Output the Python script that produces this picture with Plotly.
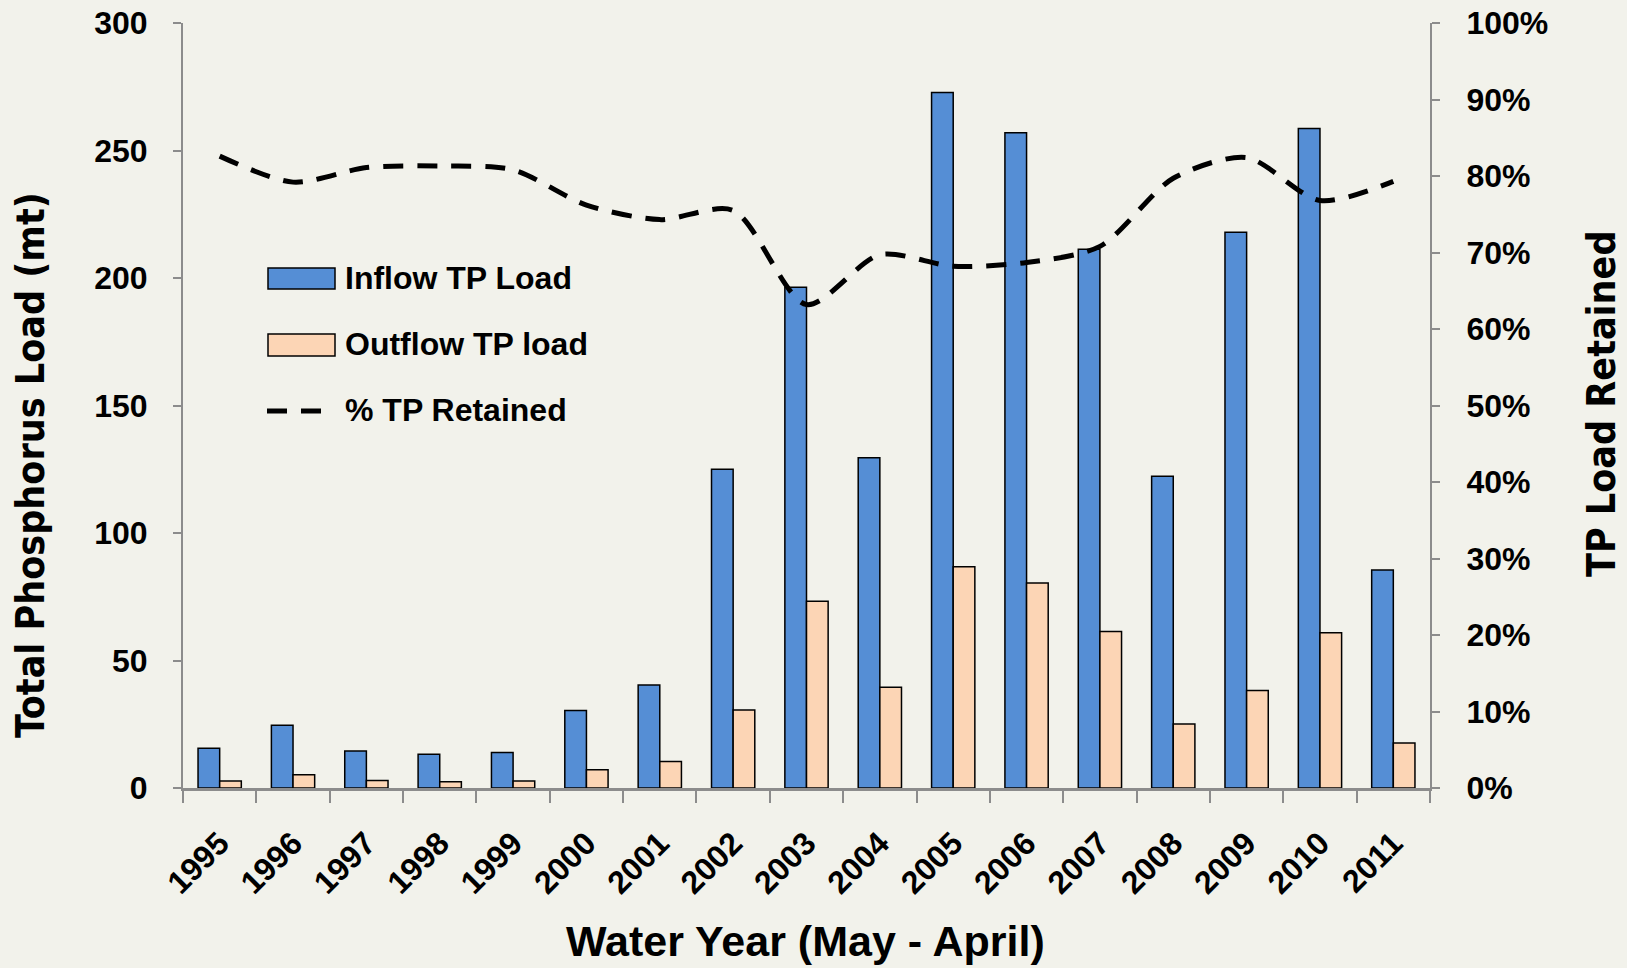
import plotly.graph_objects as go

years = [str(y) for y in range(1995, 2012)]
inflow = [15.6, 24.6, 14.5, 13.2, 13.9, 30.4, 40.4, 125.0, 196.4, 129.5, 272.7, 257.0, 211.3, 122.3, 217.9, 258.6, 85.5]
outflow = [2.7, 5.2, 2.9, 2.5, 2.7, 7.2, 10.4, 30.6, 73.2, 39.5, 86.8, 80.4, 61.4, 25.1, 38.2, 60.9, 17.6]
pct_retained = [0.826, 0.792, 0.811, 0.813, 0.808, 0.762, 0.743, 0.755, 0.632, 0.697, 0.682, 0.687, 0.708, 0.797, 0.824, 0.768, 0.793]

W, H = 1627, 968
ML, MR, MT, MB = 183, 197, 23, 180
PW, PH = W - ML - MR, H - MT - MB

def px(x):
    return (x - ML) / PW

def py(y):
    return (H - MB - y) / PH

BLUE = "#558ed5"
PEACH = "#fcd5b5"
BG = "#f2f2eb"
AXC = "#8c8c8c"
SANS = "Liberation Sans, Arial, sans-serif"
TICKFONT = dict(family=SANS, size=32, color="black", weight="bold")
TITLEFONT = dict(family="DejaVu Sans Condensed, DejaVu Sans, sans-serif", size=39, color="black", weight="bold")

fig = go.Figure()
fig.add_trace(go.Bar(x=years, y=inflow, name="Inflow TP Load", marker=dict(color=BLUE, line=dict(color="black", width=1.5))))
fig.add_trace(go.Bar(x=years, y=outflow, name="Outflow TP load", marker=dict(color=PEACH, line=dict(color="black", width=1.5))))
fig.add_trace(go.Scatter(x=years, y=pct_retained, name="% TP Retained", yaxis="y2", mode="lines",
                         line=dict(color="black", width=5, dash="20px,14px", shape="spline", smoothing=0.8)))

fig.update_layout(
    width=W, height=H,
    margin=dict(l=ML, r=MR, t=MT, b=MB, autoexpand=False),
    paper_bgcolor=BG, plot_bgcolor=BG,
    barmode="group", bargap=0.41, bargroupgap=0,
    showlegend=False,
    xaxis=dict(type="category", tickson="boundaries", ticks="outside", ticklen=12, tickwidth=2, tickcolor=AXC,
               showline=True, linecolor=AXC, linewidth=2.5, showgrid=False, tickangle=-45,
               tickfont=TICKFONT, ticklabelstandoff=21, automargin=False, ticklabeloverflow="allow"),
    yaxis=dict(range=[0, 300], dtick=50, ticks="outside", ticklen=8, tickwidth=2, tickcolor=AXC,
               showline=True, linecolor=AXC, linewidth=2, showgrid=False, zeroline=False,
               tickfont=TICKFONT, ticklabelstandoff=19, automargin=False, ticklabeloverflow="allow"),
    yaxis2=dict(range=[0, 1], dtick=0.1, tickformat=".0%", overlaying="y", side="right",
                ticks="outside", ticklen=8, tickwidth=2, tickcolor=AXC,
                showline=True, linecolor=AXC, linewidth=2, showgrid=False, zeroline=False,
                tickfont=TICKFONT, ticklabelstandoff=20, automargin=False, ticklabeloverflow="allow"),
)

annotations = [
    dict(text="Total Phosphorus Load (mt)", x=px(31), y=py(465), textangle=-90, font=TITLEFONT),
    dict(text="TP Load Retained", x=px(1601), y=py(404), textangle=-90, font=TITLEFONT),
    dict(text="Water Year (May - April)", x=px(805), y=py(941),
         font=dict(family=SANS, size=43, color="black", weight="bold")),
]
legend_labels = ["Inflow TP Load", "Outflow TP load", "% TP Retained"]
legend_y = [278, 344, 410]
for lab, yy in zip(legend_labels, legend_y):
    annotations.append(dict(text=lab, x=px(343), y=py(yy), xanchor="left",
                            font=dict(family=SANS, size=32, color="black", weight="bold")))
for a in annotations:
    a.setdefault("xref", "paper")
    a.setdefault("yref", "paper")
    a.setdefault("showarrow", False)
    a.setdefault("xanchor", "center")
    a.setdefault("yanchor", "middle")
fig.update_layout(annotations=annotations)

shapes = [
    dict(type="rect", x0=px(268), x1=px(335), y0=py(289), y1=py(268), fillcolor=BLUE, line=dict(color="black", width=1.5)),
    dict(type="rect", x0=px(268), x1=px(335), y0=py(356), y1=py(334), fillcolor=PEACH, line=dict(color="black", width=1.5)),
    dict(type="line", x0=px(267), x1=px(332), y0=py(411), y1=py(411), line=dict(color="black", width=5, dash="20px,14px")),
]
for s in shapes:
    s["xref"] = "paper"
    s["yref"] = "paper"
fig.update_layout(shapes=shapes)

fig.write_html(
    "out.html",
    config=dict(displayModeBar=False),
    post_script="document.body.style.margin='0';document.body.style.background='%s';" % BG,
)
